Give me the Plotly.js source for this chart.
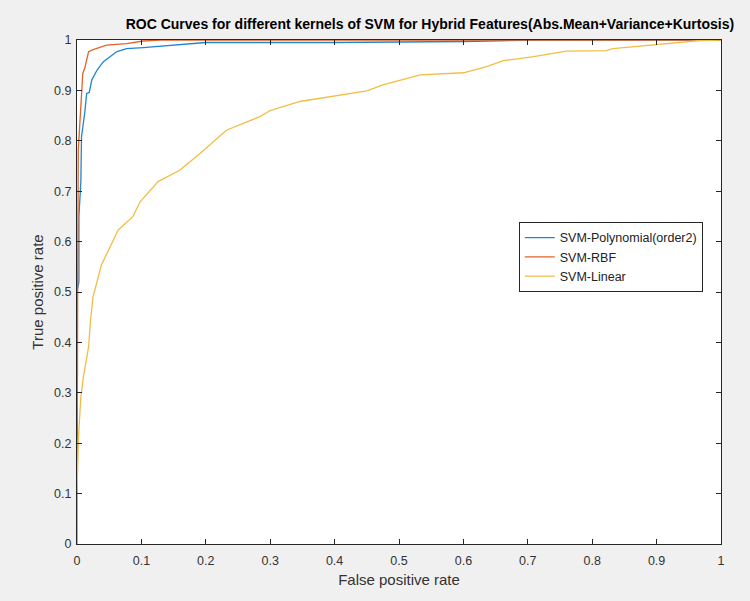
<!DOCTYPE html>
<html>
<head>
<meta charset="utf-8">
<script src="https://cdn.plot.ly/plotly-3.0.1.min.js"></script>
<style>html,body{margin:0;padding:0;background:#f0f0f0;}</style>
</head>
<body>
<div id="chart" style="width:750px;height:601px;"></div>
<script>
const seriesNames = ["SVM-Polynomial(order2)", "SVM-RBF", "SVM-Linear"];
const polyX = [0, 0, 0.003, 0.003, 0.006, 0.007, 0.012, 0.015, 0.019, 0.023, 0.031, 0.041, 0.062, 0.077, 0.103, 0.129, 0.18, 0.2, 0.4, 0.6, 0.71, 1];
const polyY = [0, 0.5, 0.52, 0.65, 0.72, 0.808, 0.855, 0.894, 0.896, 0.921, 0.94, 0.957, 0.977, 0.983, 0.985, 0.988, 0.993, 0.995, 0.995, 0.997, 1, 1];
const rbfX = [0, 0, 0.001, 0.002, 0.006, 0.009, 0.012, 0.018, 0.025, 0.046, 0.077, 0.103, 0.13, 1];
const rbfY = [0, 0.15, 0.5, 0.782, 0.868, 0.934, 0.944, 0.977, 0.981, 0.99, 0.993, 0.998, 1, 1];
const linX = [0, 0, 0.002, 0.006, 0.010, 0.018, 0.021, 0.025, 0.038, 0.054, 0.064, 0.087, 0.098, 0.126, 0.160, 0.191, 0.232, 0.284, 0.3, 0.346, 0.45, 0.475, 0.533, 0.6, 0.636, 0.662, 0.709, 0.76, 0.822, 0.832, 0.89, 0.931, 0.967, 1];
const linY = [0, 0.1, 0.206, 0.292, 0.332, 0.391, 0.444, 0.491, 0.554, 0.597, 0.623, 0.65, 0.679, 0.719, 0.742, 0.775, 0.821, 0.848, 0.86, 0.878, 0.899, 0.911, 0.931, 0.935, 0.947, 0.959, 0.967, 0.978, 0.979, 0.983, 0.99, 0.995, 0.999, 1];

const colors = ["#1f86d0", "#e0642c", "#f2bd45"];
const xs = [polyX, rbfX, linX], ys = [polyY, rbfY, linY];
const traces = seriesNames.map((n, i) => ({
  x: xs[i], y: ys[i], name: n, type: "scatter", mode: "lines",
  line: {color: colors[i], width: 1.3}
}));

const axisCommon = {
  range: [0, 1], dtick: 0.1, tick0: 0, showgrid: false, zeroline: false,
  showline: true, mirror: "ticks", ticks: "inside", ticklen: 5,
  linecolor: "#262626", tickcolor: "#262626", linewidth: 1,
  tickfont: {family: "Liberation Sans, Arial, sans-serif", size: 12.5, color: "#333333"}
};

const layout = {
  width: 750, height: 601,
  paper_bgcolor: "#f0f0f0", plot_bgcolor: "#ffffff",
  margin: {l: 77, r: 29, t: 40, b: 57},
  font: {family: "Liberation Sans, Arial, sans-serif", color: "#262626"},
  title: {
    text: "<b>ROC Curves for different kernels of SVM for Hybrid Features(Abs.Mean+Variance+Kurtosis)</b>",
    font: {size: 14, color: "#000000"},
    x: 0.548, xref: "paper", xanchor: "center", y: 0.96, yref: "container", yanchor: "middle"
  },
  xaxis: Object.assign({}, axisCommon, {
    ticklabelstandoff: 5,
    title: {text: "False positive rate", font: {size: 15, color: "#333333"}, standoff: 7}
  }),
  yaxis: Object.assign({}, axisCommon, {
    ticklabelstandoff: 2,
    title: {text: "True positive rate", font: {size: 15, color: "#333333"}, standoff: 6}
  }),
  showlegend: true,
  legend: {
    x: 0.686, y: 0.639, xanchor: "left", yanchor: "top",
    bgcolor: "#ffffff", bordercolor: "#262626", borderwidth: 1,
    font: {size: 12.5, color: "#222222"}, tracegroupgap: 0
  }
};

Plotly.newPlot("chart", traces, layout, {displayModeBar: false, staticPlot: true});
</script>
</body>
</html>
